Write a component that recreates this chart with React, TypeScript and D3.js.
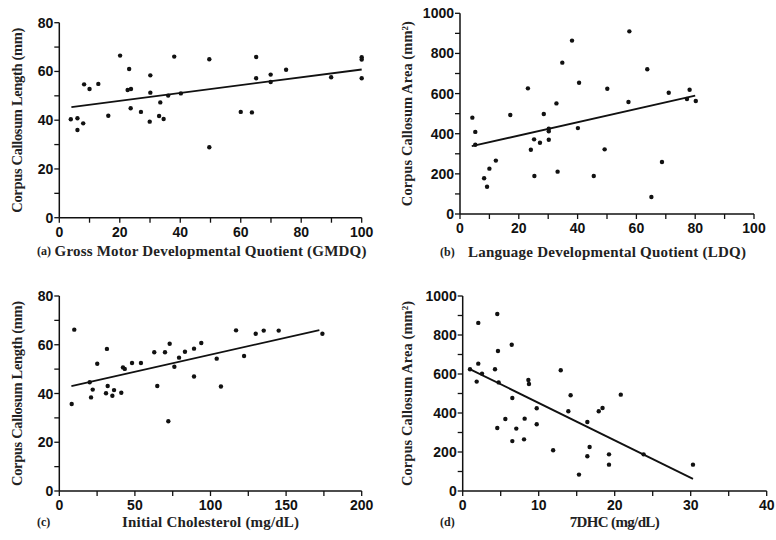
import * as d3 from "d3";

// ---- data
const gmdqX = [3.8, 6.0, 6.0, 7.9, 8.2, 10.0, 12.9, 16.2, 20.1, 23.1, 22.6, 23.7, 23.6, 27.0, 30.1, 30.1, 29.9, 33.4, 33.0, 34.5, 36.0, 38.0, 40.2, 49.6, 49.6, 60.0, 63.7, 65.1, 65.1, 69.9, 69.9, 75.0, 89.9, 100, 100, 100];
const gmdqLen = [40.4, 40.8, 36.0, 38.7, 54.7, 52.8, 54.9, 41.8, 66.5, 61.0, 52.4, 52.8, 44.9, 43.4, 58.4, 51.3, 39.4, 47.3, 41.7, 40.5, 50.1, 66.1, 51.0, 65.0, 28.9, 43.4, 43.2, 65.9, 57.2, 58.7, 55.7, 60.7, 57.6, 65.8, 64.9, 57.2];
const gmdqFitX = [4, 100];
const gmdqFitY = [45.4, 60.8];

const ldqX = [4.2, 5.2, 5.2, 8.2, 9.2, 10.0, 12.2, 17.1, 23.1, 24.1, 25.2, 25.3, 27.2, 28.5, 30.2, 30.2, 30.2, 32.8, 33.2, 34.8, 38.1, 40.5, 40.1, 45.5, 49.2, 50.1, 57.6, 57.3, 63.7, 68.7, 65.1, 71.0, 78.1, 77.2, 80.2];
const ldqArea = [480, 409, 345, 178, 136, 226, 266, 493, 626, 320, 372, 189, 355, 498, 425, 412, 370, 551, 211, 754, 864, 654, 428, 189, 322, 624, 910, 558, 721, 259, 85, 604, 619, 573, 563];
const ldqFitX = [4, 80];
const ldqFitY = [338, 590];

const cholX = [8.2, 9.9, 20.1, 22.1, 21.0, 25.1, 31.5, 30.9, 32.0, 35.1, 36.2, 41.0, 42.1, 43.3, 48.1, 54.0, 62.8, 64.8, 69.9, 73.0, 72.1, 76.1, 79.2, 83.1, 89.1, 89.1, 93.9, 104.1, 106.9, 116.9, 122.2, 129.9, 135.2, 145.1, 174.0];
const cholLen = [35.7, 66.2, 44.6, 41.6, 38.4, 52.2, 58.3, 40.1, 43.1, 39.1, 41.4, 40.3, 50.7, 50.1, 52.5, 52.5, 56.9, 43.1, 56.9, 60.4, 28.6, 51.0, 54.7, 57.1, 58.4, 47.0, 60.7, 54.3, 42.9, 65.9, 55.4, 64.5, 65.8, 65.8, 64.5];
const cholFitX = [8, 172];
const cholFitY = [43, 66];

const dhcX = [0.96, 1.84, 2.05, 2.05, 2.54, 4.25, 4.55, 4.64, 4.73, 4.55, 5.61, 6.45, 6.53, 6.53, 7.05, 8.15, 8.07, 8.64, 8.72, 9.74, 9.74, 11.9, 12.9, 14.2, 13.9, 15.3, 16.4, 16.4, 16.7, 17.9, 18.4, 19.25, 19.25, 20.8, 23.8, 30.3];
const dhcArea = [624, 561, 653, 862, 602, 624, 908, 718, 557, 323, 369, 750, 477, 256, 320, 371, 265, 569, 549, 424, 342, 209, 619, 491, 409, 84, 178, 354, 226, 409, 426, 188, 135, 494, 188, 135];
const dhcFitX = [1, 30.3];
const dhcFitY = [624, 62];

const sans = "'Liberation Sans', Arial, sans-serif";
const serif = "'Liberation Serif', 'Times New Roman', serif";

type PanelProps = {
  left: number; right: number; bottom: number; top: number;
  xMax: number; yMax: number;
  xStep: number; xLabelStep: number; yStep: number; yLabelStep: number;
  xs: number[]; ys: number[]; fitX: number[]; fitY: number[];
  xTitle: string; xTitleLen: number; yTitle: string;
  letter: string; letterX: number; titleY: number; yTitleX: number;
};

function Panel(p: PanelProps) {
  const x = d3.scaleLinear().domain([0, p.xMax]).range([p.left, p.right]);
  const y = d3.scaleLinear().domain([0, p.yMax]).range([p.bottom, p.top]);
  const xt = d3.range(0, p.xMax + 1e-6, p.xStep);
  const yt = d3.range(0, p.yMax + 1e-6, p.yStep);
  const line = d3.line<number>().x((d) => x(d)).y((_, i) => y(p.fitY[i]));
  const x0 = x(0), y0 = y(0);

  return (
    <g>
      <line x1={x0} x2={x(p.xMax)} y1={y0} y2={y0} stroke="#111" strokeWidth={1.5} />
      <line x1={x0} x2={x0} y1={y0} y2={y(p.yMax)} stroke="#111" strokeWidth={1.5} />
      {xt.map((v) => (
        <g key={"x" + v}>
          <line x1={x(v)} x2={x(v)} y1={y0} y2={y0 + 5} stroke="#111" strokeWidth={1.3} />
          {v % p.xLabelStep === 0 && (
            <text x={x(v)} y={y0 + 19} textAnchor="middle" fontFamily={sans} fontWeight="bold" fontSize={14} fill="#111">{v}</text>
          )}
        </g>
      ))}
      {yt.map((v) => (
        <g key={"y" + v}>
          <line x1={x0} x2={x0 - 5} y1={y(v)} y2={y(v)} stroke="#111" strokeWidth={1.3} />
          {v % p.yLabelStep === 0 && (
            <text x={x0 - 6} y={y(v)} dy="0.36em" textAnchor="end" fontFamily={sans} fontWeight="bold" fontSize={14} fill="#111">{v}</text>
          )}
        </g>
      ))}
      <path d={line(p.fitX) ?? ""} fill="none" stroke="#111" strokeWidth={1.8} />
      {p.xs.map((v, i) => (
        <circle key={i} cx={x(v)} cy={y(p.ys[i])} r={2.2} fill="#111" />
      ))}
      <text x={(p.left + p.right) / 2} y={p.titleY} textAnchor="middle" fontFamily={serif} fontWeight="bold" fontSize={15}
        textLength={p.xTitleLen} lengthAdjust="spacing" fill="#222">{p.xTitle}</text>
      <text x={p.letterX} y={p.titleY - 1} fontFamily={serif} fontWeight="bold" fontSize={12} fill="#222">{p.letter}</text>
      <text transform={`translate(${p.yTitleX},${(p.top + p.bottom) / 2}) rotate(-90)`} dy="0.35em" textAnchor="middle"
        fontFamily={serif} fontWeight="bold" fontSize={14.5} textLength={185} lengthAdjust="spacing" fill="#222">{p.yTitle}</text>
    </g>
  );
}

export default function App() {
  return (
    <div style={{ position: "absolute", left: 0, top: 0 }}>
      <svg width={776} height={540} style={{ display: "block", background: "#fff" }}>
        <Panel left={59.3} right={361.7} bottom={217.7} top={22.7} xMax={100} yMax={80}
          xStep={10} xLabelStep={20} yStep={10} yLabelStep={20}
          xs={gmdqX} ys={gmdqLen} fitX={gmdqFitX} fitY={gmdqFitY}
          xTitle="Gross Motor Developmental Quotient (GMDQ)" xTitleLen={312}
          yTitle="Corpus Callosum Length (mm)" letter="(a)" letterX={37} titleY={256} yTitleX={16.7} />
        <Panel left={460} right={754} bottom={214} top={13.3} xMax={100} yMax={1000}
          xStep={10} xLabelStep={20} yStep={100} yLabelStep={200}
          xs={ldqX} ys={ldqArea} fitX={ldqFitX} fitY={ldqFitY}
          xTitle="Language Developmental Quotient (LDQ)" xTitleLen={278}
          yTitle="Corpus Callosum Area (mm²)" letter="(b)" letterX={440} titleY={256.5} yTitleX={406.7} />
        <Panel left={59.3} right={361.7} bottom={491} top={296} xMax={200} yMax={80}
          xStep={25} xLabelStep={50} yStep={10} yLabelStep={20}
          xs={cholX} ys={cholLen} fitX={cholFitX} fitY={cholFitY}
          xTitle="Initial Cholesterol (mg/dL)" xTitleLen={177}
          yTitle="Corpus Callosum Length (mm)" letter="(c)" letterX={37} titleY={527} yTitleX={16.7} />
        <Panel left={462.7} right={766.7} bottom={491} top={296} xMax={40} yMax={1000}
          xStep={5} xLabelStep={10} yStep={100} yLabelStep={200}
          xs={dhcX} ys={dhcArea} fitX={dhcFitX} fitY={dhcFitY}
          xTitle="7DHC (mg/dL)" xTitleLen={90}
          yTitle="Corpus Callosum Area (mm²)" letter="(d)" letterX={440} titleY={527} yTitleX={406.7} />
      </svg>
    </div>
  );
}
